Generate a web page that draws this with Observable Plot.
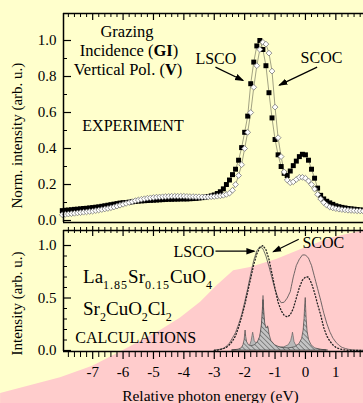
<!DOCTYPE html>
<html>
<head>
<meta charset="utf-8">
<script src="https://cdn.jsdelivr.net/npm/d3@7"></script>
<script src="https://cdn.jsdelivr.net/npm/@observablehq/plot@0.6"></script>
<style>
  html, body { margin: 0; padding: 0; background: #ffffcc; }
  #chart { width: 363px; height: 403px; overflow: hidden; background: #ffffcc; position: relative; }
  #chart svg { display: block; position: absolute; left: 0; }
</style>
</head>
<body>
<div id="chart"></div>
<script>
// ---------------- data ----------------
const expEnergy = [
  -8.0,-7.9,-7.8,-7.7,-7.6,-7.5,-7.4,-7.3,-7.2,-7.1,-7.0,
  -6.9,-6.8,-6.7,-6.6,-6.5,-6.4,-6.3,-6.2,-6.1,-6.0,
  -5.9,-5.8,-5.7,-5.6,-5.5,-5.4,-5.3,-5.2,-5.1,-5.0,
  -4.9,-4.8,-4.7,-4.6,-4.5,-4.4,-4.3,-4.2,-4.1,-4.0,
  -3.9,-3.8,-3.7,-3.6,-3.5,-3.4,-3.3,-3.2,-3.1,-3.0,
  -2.9,-2.8,-2.7,-2.6,-2.5,-2.4,-2.3,-2.2,-2.1,-2.0,
  -1.9,-1.8,-1.7,-1.6,-1.5,-1.4,-1.3,-1.2,-1.1,-1.0,
  -0.9,-0.8,-0.7,-0.6,-0.5,-0.4,-0.3,-0.2,-0.1,0.0,
  0.1,0.2,0.3,0.4,0.5,0.6,0.7,0.8,0.9,1.0,
  1.1,1.2,1.3,1.4,1.5,1.6,1.7,1.8,1.9
];
const lscoExp = [
  0.055,0.057,0.058,0.060,0.062,0.063,0.065,0.067,0.068,0.070,0.072,
  0.074,0.076,0.079,0.082,0.085,0.088,0.091,0.094,0.097,0.099,
  0.100,0.102,0.104,0.106,0.108,0.109,0.110,0.111,0.112,0.113,
  0.114,0.115,0.116,0.117,0.118,0.118,0.119,0.119,0.120,0.120,
  0.120,0.121,0.122,0.123,0.125,0.127,0.130,0.133,0.137,0.142,
  0.150,0.160,0.176,0.200,0.225,0.255,0.285,0.335,0.405,0.490,
  0.580,0.760,0.880,0.970,1.000,0.950,0.860,0.710,0.570,0.450,
  0.365,0.300,0.262,0.250,0.275,0.305,0.330,0.355,0.368,0.365,
  0.335,0.285,0.235,0.180,0.140,0.120,0.107,0.098,0.090,0.082,
  0.077,0.073,0.070,0.067,0.065,0.063,0.061,0.059,0.057
];
const scocExp = [
  0.032,0.034,0.036,0.038,0.040,0.042,0.044,0.046,0.048,0.050,0.052,
  0.055,0.058,0.061,0.064,0.067,0.071,0.075,0.080,0.085,0.090,
  0.095,0.100,0.105,0.110,0.114,0.118,0.121,0.124,0.126,0.128,
  0.130,0.131,0.132,0.133,0.134,0.135,0.135,0.135,0.135,0.135,
  0.134,0.133,0.133,0.132,0.132,0.131,0.131,0.131,0.132,0.133,
  0.135,0.137,0.140,0.145,0.152,0.168,0.200,0.250,0.310,0.400,
  0.490,0.600,0.740,0.860,0.950,0.990,0.980,0.930,0.830,0.630,
  0.460,0.355,0.270,0.225,0.210,0.215,0.228,0.240,0.240,0.235,
  0.220,0.200,0.175,0.145,0.120,0.100,0.085,0.075,0.070,0.066,
  0.063,0.061,0.059,0.057,0.056,0.055,0.054,0.053,0.052
];

const calcEnergy = [
  -3.0,-2.9,-2.8,-2.7,-2.6,-2.5,-2.4,-2.3,-2.2,-2.1,
  -2.0,-1.9,-1.8,-1.7,-1.6,-1.5,-1.4,-1.3,-1.2,-1.1,
  -1.0,-0.9,-0.8,-0.7,-0.6,-0.5,-0.4,-0.3,-0.2,-0.1,
  0.0,0.1,0.2,0.3,0.4,0.5,0.6,0.7,0.8,0.9,
  1.0,1.1,1.2,1.3,1.4,1.5,1.6,1.7,1.8,1.9
];
const calcLSCO = [
  0.005,0.008,0.012,0.020,0.040,0.070,0.120,0.170,0.250,0.340,
  0.460,0.590,0.730,0.860,0.950,0.990,0.970,0.900,0.800,0.690,
  0.580,0.500,0.455,0.460,0.500,0.560,0.700,0.810,0.870,0.910,
  0.910,0.880,0.810,0.700,0.590,0.480,0.360,0.260,0.180,0.120,
  0.080,0.050,0.030,0.020,0.012,0.008,0.005,0.004,0.003,0.002
];
const calcSCOC = [
  0.000,0.004,0.010,0.018,0.030,0.055,0.090,0.140,0.220,0.320,
  0.430,0.560,0.690,0.820,0.920,0.980,1.000,0.960,0.870,0.730,
  0.590,0.460,0.380,0.335,0.320,0.340,0.400,0.500,0.600,0.670,
  0.700,0.700,0.640,0.550,0.440,0.340,0.220,0.140,0.090,0.055,
  0.030,0.018,0.010,0.005,0.002,0,0,0,0,0
];

const greyE = [-2.40,-2.20,-2.05,-1.90,-1.82,-1.77,-1.74,-1.72,-1.70,-1.67,-1.62,-1.55,-1.49,-1.45,-1.42,
  -1.40,-1.38,-1.36,-1.33,-1.29,-1.22,-1.10,-0.90,-0.70,-0.55,-0.47,-0.43,-0.41,-0.39,-0.36,
  -0.31,-0.22,-0.12,-0.06,-0.03,-0.01,0.00,0.02,0.05,0.10,0.20,0.35,0.55,0.75];
const greyI = [0,0.005,0.012,0.025,0.045,0.09,0.14,0.17,0.14,0.09,0.07,0.08,0.12,0.18,0.28,
  0.40,0.52,0.40,0.26,0.16,0.09,0.05,0.03,0.03,0.05,0.09,0.14,0.17,0.14,0.08,
  0.05,0.04,0.06,0.12,0.22,0.32,0.36,0.26,0.13,0.07,0.03,0.012,0.004,0];

const hatchE = [-2.40,-2.20,-2.10,-2.04,-2.00,-1.98,-1.97,-1.95,-1.92,-1.86,-1.78,-1.66,-1.56,-1.49,-1.44,
  -1.41,-1.39,-1.38,-1.37,-1.35,-1.32,-1.28,-1.25,-1.23,-1.21,-1.18,-1.12,-1.00,-0.80,-0.55,
  -0.35,-0.20,-0.11,-0.06,-0.03,-0.01,0.01,0.02,0.04,0.07,0.12,0.20,0.32,0.50,0.70];
const hatchI = [0,0.008,0.02,0.05,0.10,0.16,0.19,0.13,0.08,0.05,0.04,0.05,0.08,0.13,0.22,
  0.32,0.42,0.48,0.42,0.32,0.25,0.21,0.22,0.23,0.21,0.15,0.09,0.05,0.025,0.02,
  0.03,0.06,0.11,0.19,0.30,0.42,0.50,0.42,0.30,0.18,0.10,0.05,0.02,0.008,0];

const pinkE   = [-10.03,-8.06,-7.0,-5.99,-4.77,-4.11,-3.45,-2.90,-2.36,-1.81,-1.59,-0.93,-0.16,0.82,1.91];
const pinkTop = [-0.41,-0.26,-0.15,0.0,0.19,0.31,0.46,0.62,0.76,0.79,0.81,0.87,0.96,1.07,1.14];

const xMajor = [-7,-6,-5,-4,-3,-2,-1,0,1];
const xMinor = d3.range(-39, 10).map(k => k / 5).filter(v => !Number.isInteger(v));
const yMajorTop = [0, 0.2, 0.4, 0.6, 0.8, 1.0];
const yMinorTop = [0.1, 0.3, 0.5, 0.7, 0.9];
const yMajorBot = [0, 0.5, 1.0];
const yMinorBot = [0.1, 0.2, 0.3, 0.4, 0.6, 0.7, 0.8, 0.9];

// ---------------- layout ----------------
const FONT = "'Liberation Serif', 'Times New Roman', serif";
const W = 363, ML = 63, FRAME_W = W - ML;
const X_DOMAIN = [-7.96, 1.91];
const TOP_H = 229, TOP_MT = 13, TOP_MB = 7, TOP_FH = TOP_H - TOP_MT - TOP_MB;
const BOT_TOP = 224;
const BOT_H = 179, BOT_MT = 6, BOT_MB = 52, BOT_FH = BOT_H - BOT_MT - BOT_MB;
const Y_TOP = [-0.011, 1.15];
const Y_BOT = [-0.0095, 1.143];

const expRows = expEnergy.map((E, i) => ({E, lsco: lscoExp[i], scoc: scocExp[i]}));
const calcRows = calcEnergy.map((E, i) => ({E, lsco: calcLSCO[i], scoc: calcSCOC[i]}));
const greyRows = greyE.map((E, i) => ({E, I: greyI[i]}));
const hatchRows = hatchE.map((E, i) => ({E, I: hatchI[i]}));
const pinkRows = pinkE.map((E, i) => ({E, I: pinkTop[i]}));

const filledArrow = (color) => {
  const m = d3.create("svg:marker")
    .attr("viewBox", "-10 -5 12 10")
    .attr("markerWidth", 8).attr("markerHeight", 6.67)
    .attr("refX", 0).attr("refY", 0)
    .attr("orient", "auto")
    .attr("fill", color).attr("stroke", "none");
  m.append("path").attr("d", "M-10,-4L1.5,0L-10,4Z");
  return m.node();
};

const topLabels = [
  {E: -5.87, I: 1.017, t: "Grazing", anchor: "middle", size: 16.5},
  {E: -7.34, I: 0.50, t: "EXPERIMENT", anchor: "start", size: 16},
  {E: -3.62, I: 0.872, t: "LSCO", anchor: "start", size: 16},
  {E: -0.16, I: 0.874, t: "SCOC", anchor: "start", size: 16}
];
const topArrows = [
  {x1: -2.96, y1: 0.852, x2: -2.05, y2: 0.778},
  {x1: 0.385, y1: 0.852, x2: -0.86, y2: 0.752}
];
const botLabels = [
  {E: -4.34, I: 0.886, t: "LSCO", anchor: "start", size: 16},
  {E: -0.10, I: 0.98, t: "SCOC", anchor: "start", size: 16},
  {E: -7.57, I: 0.067, t: "CALCULATIONS", anchor: "start", size: 16}
];
const botArrows = [
  {x1: -2.96, y1: 0.946, x2: -1.68, y2: 0.946},
  {x1: -0.22, y1: 1.06, x2: -1.06, y2: 0.94}
];

const baseStyle = {background: "transparent", fontFamily: FONT, fontSize: "15px", color: "black", overflow: "hidden"};

// ---------------- top panel ----------------
const topPlot = Plot.plot({
  width: W, height: TOP_H,
  marginLeft: ML, marginRight: 0, marginTop: TOP_MT, marginBottom: TOP_MB,
  style: baseStyle,
  x: {domain: X_DOMAIN, axis: null},
  y: {domain: Y_TOP},
  marks: [
    Plot.line(expRows, {x: "E", y: "lsco", stroke: "#8a8a6e", strokeWidth: 0.8}),
    Plot.line(expRows, {x: "E", y: "scoc", stroke: "#8a8a6e", strokeWidth: 0.8}),
    Plot.dot(expRows, {x: "E", y: "lsco", symbol: "square", r: 2.8, fill: "black"}),
    Plot.dot(expRows, {x: "E", y: "scoc", symbol: "diamond2", r: 2.6, fill: "white", stroke: "#777", strokeWidth: 0.8}),
    Plot.ruleX([X_DOMAIN[0]], {stroke: "black", strokeWidth: 1.5}),
    Plot.ruleY(Y_TOP, {stroke: "black", strokeWidth: 1.5}),
    Plot.tickX(xMinor, {x: d => d, insetBottom: TOP_FH - 4, stroke: "black"}),
    Plot.tickX(xMajor, {x: d => d, insetBottom: TOP_FH - 7, stroke: "black", strokeWidth: 1.2}),
    Plot.tickY(yMinorTop, {y: d => d, insetRight: FRAME_W - 4, stroke: "black"}),
    Plot.tickY(yMajorTop, {y: d => d, insetRight: FRAME_W - 8, stroke: "black", strokeWidth: 1.2}),
    Plot.axisY({ticks: yMajorTop, anchor: "left", tickSize: 0, tickPadding: 7, tickFormat: d3.format(".1f"), fontSize: 15, label: null}),
    Plot.text(["Norm. intensity (arb. u.)"], {text: d => d, frameAnchor: "left", textAnchor: "middle", y: 0.472, dx: -46, rotate: -90, fontSize: 15}),
    ...topLabels.map(l => Plot.text([l], {x: "E", y: "I", text: "t", textAnchor: l.anchor, lineAnchor: "bottom", fontSize: l.size})),
    Plot.link(topArrows, {x1: "x1", y1: "y1", x2: "x2", y2: "y2", stroke: "black", strokeWidth: 1.2, markerEnd: filledArrow})
  ]
});

// ---------------- bottom panel ----------------
const botPlot = Plot.plot({
  width: W, height: BOT_H,
  marginLeft: ML, marginRight: 0, marginTop: BOT_MT, marginBottom: BOT_MB,
  style: baseStyle,
  x: {domain: X_DOMAIN},
  y: {domain: Y_BOT},
  marks: [
    Plot.areaY(pinkRows, {x: "E", y1: -0.6, y2: "I", fill: "#ffcccc"}),
    Plot.areaY(greyRows, {x: "E", y: "I", fill: "#b8b8b8", stroke: "#555", strokeWidth: 0.6}),
    Plot.areaY(hatchRows, {x: "E", y: "I", fill: "url(#hatch)", stroke: "#333", strokeWidth: 0.6}),
    Plot.line(calcRows, {x: "E", y: "lsco", stroke: "#4a4a4a", strokeWidth: 0.8, strokeDasharray: "2.5,0.8"}),
    Plot.line(calcRows, {x: "E", y: "scoc", stroke: "#222", strokeWidth: 1.3, strokeDasharray: "1,2.2"}),
    Plot.ruleX([X_DOMAIN[0]], {stroke: "black", strokeWidth: 1.5}),
    Plot.ruleY(Y_BOT, {stroke: "black", strokeWidth: 1.5}),
    Plot.tickX(xMinor, {x: d => d, insetTop: -3, insetBottom: BOT_FH - 3, stroke: "black"}),
    Plot.tickX(xMajor, {x: d => d, insetTop: -4, insetBottom: BOT_FH - 6, stroke: "black", strokeWidth: 1.2}),
    Plot.tickX(xMinor, {x: d => d, insetTop: BOT_FH, insetBottom: -6, stroke: "black"}),
    Plot.tickX(xMajor, {x: d => d, insetTop: BOT_FH, insetBottom: -8, stroke: "black", strokeWidth: 1.2}),
    Plot.tickY(yMinorBot, {y: d => d, insetRight: FRAME_W - 4, stroke: "black"}),
    Plot.tickY(yMajorBot, {y: d => d, insetRight: FRAME_W - 8, stroke: "black", strokeWidth: 1.2}),
    Plot.axisY({ticks: yMajorBot, anchor: "left", tickSize: 0, tickPadding: 7, tickFormat: d3.format(".1f"), fontSize: 15, label: null}),
    Plot.axisX({ticks: xMajor, anchor: "bottom", tickSize: 0, tickPadding: 15, tickFormat: d => String(d), fontSize: 15, label: null}),
    Plot.text(["Intensity (arb. u.)"], {text: d => d, frameAnchor: "left", textAnchor: "middle", y: 0.448, dx: -46, rotate: -90, fontSize: 15}),
    Plot.text(["Relative photon energy (eV)"], {text: d => d, x: -3.125, frameAnchor: "bottom", textAnchor: "middle", dy: 49, lineAnchor: "bottom", fontSize: 15.5}),
    ...botLabels.map(l => Plot.text([l], {x: "E", y: "I", text: "t", textAnchor: l.anchor, lineAnchor: "bottom", fontSize: l.size})),
    Plot.link(botArrows, {x1: "x1", y1: "y1", x2: "x2", y2: "y2", stroke: "black", strokeWidth: 1.2, markerEnd: filledArrow})
  ]
});

// hatch pattern
{
  const defs = d3.select(botPlot).insert("defs", ":first-child");
  const p = defs.append("pattern").attr("id", "hatch").attr("patternUnits", "userSpaceOnUse")
    .attr("width", 3.5).attr("height", 3.5).attr("patternTransform", "rotate(-45)");
  p.append("rect").attr("width", 3.5).attr("height", 3.5).attr("fill", "#c4c4c4");
  p.append("line").attr("x1", 0).attr("y1", 0).attr("x2", 0).attr("y2", 3.5).attr("stroke", "#222").attr("stroke-width", 0.8);
}

// rich text (bold parts, subscripts) placed with the plots' scales
function richText(plot, E, I, parts, o) {
  const x = plot.scale("x").apply(E), y = plot.scale("y").apply(I);
  const t = d3.select(plot).append("text").attr("x", x).attr("y", y)
    .attr("font-family", FONT).attr("font-size", o.size)
    .attr("text-anchor", o.anchor || "start").attr("fill", "black");
  let shifted = 0;
  for (const p of parts) {
    const ts = t.append("tspan");
    if (typeof p === "string") {
      ts.text(p);
      if (shifted) { ts.attr("dy", -shifted); shifted = 0; }
    } else if (p.bold) {
      ts.text(p.bold).attr("font-weight", "bold");
      if (shifted) { ts.attr("dy", -shifted); shifted = 0; }
    } else if (p.sub) {
      ts.text(p.sub).attr("font-size", o.subSize).attr("dy", o.subShift - shifted)
        .attr("letter-spacing", o.subSpacing || 0);
      shifted = o.subShift;
    }
  }
}

richText(topPlot, -5.79, 0.911, ["Incidence (", {bold: "GI"}, ")"], {size: 16.5, anchor: "middle"});
richText(topPlot, -5.82, 0.806, ["Vertical Pol. (", {bold: "V"}, ")"], {size: 16.5, anchor: "middle"});
richText(botPlot, -7.30, 0.638, ["La", {sub: "1.85"}, "Sr", {sub: "0.15"}, "CuO", {sub: "4"}],
  {size: 19, subSize: 12, subShift: 6, subSpacing: 1});
richText(botPlot, -7.30, 0.333, ["Sr", {sub: "2"}, "CuO", {sub: "2"}, "Cl", {sub: "2"}],
  {size: 19, subSize: 12, subShift: 6});

const chart = document.getElementById("chart");
topPlot.style.top = "0px";
botPlot.style.top = BOT_TOP + "px";
chart.appendChild(topPlot);
chart.appendChild(botPlot);
</script>
</body>
</html>
